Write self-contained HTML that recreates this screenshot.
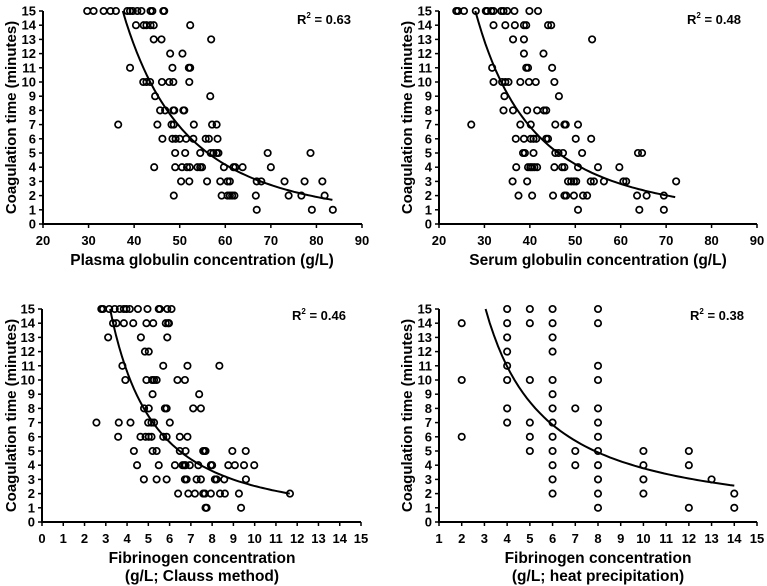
<!DOCTYPE html>
<html><head><meta charset="utf-8"><style>
html,body{margin:0;padding:0;background:#fff;}
svg{display:block;font-family:"Liberation Sans",Arial,sans-serif;font-weight:bold;}
</style></head><body>
<svg id="c" width="767" height="586" viewBox="0 0 767 586" xmlns="http://www.w3.org/2000/svg"></svg>
<script>
// Panel A: plasma globulin
const p1X15=[29.7,31.1,33.3,34.8,36.0,38.5,39.1,39.7,40.7,41.6,43.6,44.0,46.4,46.6];
const p1X14=[40.4,42.1,42.7,43.6,44.3,52.3];
const p1X13=[44.3,46.0,56.9];
const p1X12=[47.9,50.6];
const p1X11=[39.1,48.4,52.0,52.3];
const p1X10=[42.0,42.7,43.5,46.1,47.7,48.6,52.1];
const p1X9=[44.6,56.7];
const p1X8=[45.7,46.8,48.6,48.8,50.8,51.0];
const p1X7=[36.5,45.1,48.2,48.7,53.1,57.1,58.1];
const p1X6=[46.2,48.4,49.1,50.0,51.4,53.0,55.7,56.4,58.3];
const p1X5=[49.0,51.2,54.5,56.8,57.4,58.1,58.5,69.3,78.7];
const p1X4=[44.4,49.0,50.5,51.6,52.2,53.9,54.5,54.9,59.7,61.8,62.2,63.8,70.0];
const p1X3=[50.3,52.1,56.0,58.9,60.5,61.0,66.9,67.9,73.0,77.4,81.3];
const p1X2=[48.7,59.2,60.5,61.0,61.5,62.0,66.7,73.9,76.7,81.8];
const p1X1=[66.9,79.0,83.6];
// Panel B: serum globulin
const p2X15=[23.8,24.2,25.5,28.1,30.3,30.6,31.5,32.0,33.7,34.2,35.0,36.6,39.9,41.8];
const p2X14=[32.0,34.6,36.7,38.7,39.2,44.0,44.7];
const p2X13=[36.3,38.7,53.7];
const p2X12=[38.7,43.0];
const p2X11=[31.7,39.2,39.6,44.9];
const p2X10=[32.0,33.9,34.6,35.3,37.9,39.8,41.3,45.4];
const p2X9=[34.4,46.4];
const p2X8=[34.2,36.3,39.4,41.6,43.1,43.6];
const p2X7=[27.1,37.9,40.2,45.6,47.6,47.9,50.6];
const p2X6=[36.9,38.7,40.2,40.8,41.4,43.6,44.0,50.1,53.5];
const p2X5=[38.5,38.9,40.8,45.6,46.3,47.3,51.5,63.8,64.7];
const p2X4=[37.0,39.6,40.1,40.5,41.0,41.6,45.4,47.1,47.6,50.6,55.0,59.7];
const p2X3=[36.2,39.4,48.4,49.1,49.7,50.2,53.4,54.1,56.3,60.6,61.2,72.2];
const p2X2=[37.5,40.5,45.1,47.6,48.0,49.7,51.7,52.6,63.6,65.7,69.5];
const p2X1=[50.6,64.1,69.5];
// Panel C: fibrinogen Clauss
const p3X15=[2.79,2.87,3.16,3.42,3.66,3.85,3.97,4.13,4.51,4.96,5.49,5.54,5.89,6.09];
const p3X14=[3.34,3.5,3.85,4.29,4.91,5.23,5.82,5.93,5.97];
const p3X13=[3.11,4.65,5.89];
const p3X12=[4.84,5.02];
const p3X11=[3.78,5.7,6.84,8.34];
const p3X10=[3.92,4.91,5.18,5.27,5.39,6.37,6.72];
const p3X9=[5.2,7.39];
const p3X8=[4.8,5.02,5.78,5.86,7.11,7.47];
const p3X7=[2.56,3.61,4.16,4.99,5.15,5.27,6.01];
const p3X6=[3.58,4.63,4.87,5.02,5.15,5.7,5.86,6.48,6.84];
const p3X5=[4.32,5.2,5.39,6.48,6.75,7.58,7.63,7.69,8.95,9.58];
const p3X4=[4.47,5.49,6.25,6.61,6.69,6.75,6.95,7.35,7.94,8.0,8.76,9.07,9.5,9.98];
const p3X3=[4.79,5.39,5.86,6.72,6.8,7.27,7.47,8.13,8.21,8.57,9.59];
const p3X2=[6.4,6.88,7.19,7.58,7.66,7.94,8.37,8.6,9.26,11.66];
const p3X1=[7.69,7.74,9.36];
// Panel D: fibrinogen heat precipitation (x values, y lists)
const p4Xs=[2,4,5,6,7,8,10,12,13,14];
const p4Ys=[[14,10,6],[15,14,13,12,11,10,8,7],[15,14,10,7,6,5],[15,14,13,12,10,9,8,7,6,5,4,3,2],[8,5,4],[15,14,11,10,8,7,6,5,4,3,2,1],[5,4,3,2],[5,4,1],[3],[2,1]];
// fits: y = a * x^-k, drawn between x0 and x1
const fitK=[2.72,2.19,1.56,1.16];
const fitRange=[[37.5,83.5],[28,72],[3.2,11.65],[3.05,14]];
const fitY0=[15,15,15,15];
const r2Labels=["0.63","0.48","0.46","0.38"];
const xTicks1=[20,30,40,50,60,70,80,90];
const xTicks3=[0,1,2,3,4,5,6,7,8,9,10,11,12,13,14,15];
const xTicks4=[1,2,3,4,5,6,7,8,9,10,11,12,13,14,15];
const yTicks=[0,1,2,3,4,5,6,7,8,9,10,11,12,13,14,15];

const NS="http://www.w3.org/2000/svg";
const svg=document.getElementById('c');
function mk(tag,attrs,parent){const e=document.createElementNS(NS,tag);for(const k in attrs)e.setAttribute(k,attrs[k]);(parent||svg).appendChild(e);return e;}
function rows(prefix){const out=[];for(let y=1;y<=15;y++){const a=eval(prefix+y);a.forEach(x=>out.push([x,y]));}return out;}

const panels=[
 {id:'plasma',L:43,R:362,T:11,B:224,xmin:20,xmax:90,ticks:xTicks1,pts:rows('p1X'),title:['Plasma globulin concentration (g/L)'],ty:[265],tcx:202,ytx:11,tickX:36,r2x:324,r2y:24},
 {id:'serum',L:439,R:757,T:11,B:224,xmin:20,xmax:90,ticks:xTicks1,pts:rows('p2X'),title:['Serum globulin concentration (g/L)'],ty:[265],tcx:598,ytx:407,tickX:432,r2x:714,r2y:24},
 {id:'clauss',L:42,R:361,T:309,B:522,xmin:0,xmax:15,ticks:xTicks3,pts:rows('p3X'),title:['Fibrinogen concentration','(g/L; Clauss method)'],ty:[563,581],tcx:202,ytx:11,tickX:35,r2x:319,r2y:320},
 {id:'heat',L:439,R:757,T:309,B:522,xmin:1,xmax:15,ticks:xTicks4,pts:[],title:['Fibrinogen concentration','(g/L; heat precipitation)'],ty:[563,581],tcx:598,ytx:407,tickX:432,r2x:717,r2y:320}
];
p4Xs.forEach((x,i)=>p4Ys[i].forEach(y=>panels[3].pts.push([x,y])));

panels.forEach((p,pi)=>{
  const g=mk('g',{});
  
  
  const sx=v=>p.L+(v-p.xmin)/(p.xmax-p.xmin)*(p.R-p.L);
  const sy=v=>p.B-v/15*(p.B-p.T);
  const ax=mk('path',{d:`M${p.L} ${p.T}V${p.B}H${p.R}`,stroke:'#000','stroke-width':2,fill:'none'},g);
  
  
  yTicks.forEach(t=>{
    mk('line',{x1:p.L-4,x2:p.L,y1:sy(t),y2:sy(t),stroke:'#000','stroke-width':1.5},g);
    const tx=mk('text',{x:p.tickX,y:sy(t)+4.5,'text-anchor':'end','font-size':13},g);
    tx.textContent=t;
    
    
  });
  p.ticks.forEach(t=>{
    mk('line',{x1:sx(t),x2:sx(t),y1:p.B,y2:p.B+4,stroke:'#000','stroke-width':1.5},g);
    const tx=mk('text',{x:sx(t),y:p.B+21,'text-anchor':'middle','font-size':13},g);
    tx.textContent=t;
    
    
  });
  p.pts.forEach(([x,y])=>{
    const c=mk('circle',{cx:sx(x),cy:sy(y),r:3.2,fill:'none',stroke:'#000','stroke-width':1.7},g);
    
    
  });
  const [x0,x1]=fitRange[pi],k=fitK[pi],a=fitY0[pi]*Math.pow(x0,k);
  let d='';
  for(let i=0;i<=60;i++){const x=x0+(x1-x0)*i/60;const y=a*Math.pow(x,-k);d+=(i?'L':'M')+sx(x).toFixed(1)+' '+sy(y).toFixed(1);}
  const fc=mk('path',{d:d,stroke:'#000','stroke-width':2,fill:'none'},g);
  
  
  const r2=mk('text',{x:p.r2x,y:p.r2y,'text-anchor':'middle','font-size':13},g);
  r2.innerHTML='R<tspan font-size="8" dy="-6">2</tspan><tspan dy="6"> = '+r2Labels[pi]+'</tspan>';
  
  
  const cy=(p.T+p.B)/2;
  const yt=mk('text',{x:p.ytx,y:cy,'text-anchor':'middle','font-size':15,transform:`rotate(-90 ${p.ytx} ${cy})`,dy:5},g);
  yt.textContent='Coagulation time (minutes)';
  
  
  p.title.forEach((s,i)=>{
    const t=mk('text',{x:p.tcx,y:p.ty[i],'text-anchor':'middle','font-size':15.5},g);
    t.textContent=s;
    
    
  });
});
</script>
</body></html>
